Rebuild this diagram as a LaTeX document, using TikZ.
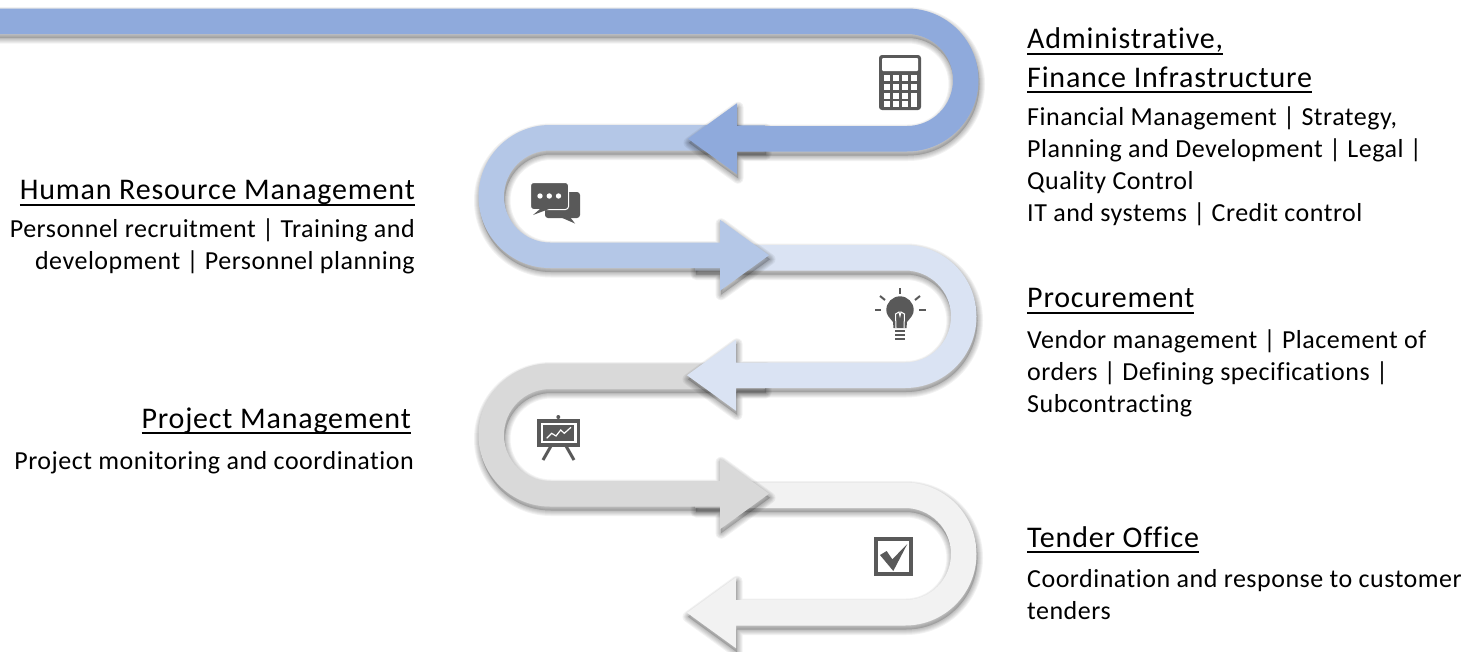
\documentclass[tikz,border=0pt]{standalone}
\usepackage{fontspec}
\setmainfont{Carlito}[Ligatures=NoCommon]
\newfontface\headface{Carlito}[LetterSpace=2.7,Ligatures=NoCommon]
\newfontface\textface{Carlito}[LetterSpace=1.95,Ligatures=NoCommon]
\usepackage{tikz}
\usetikzlibrary{positioning}
\definecolor{bandA}{HTML}{8FAADC}
\definecolor{bandB}{HTML}{B4C7E7}
\definecolor{bandC}{HTML}{DAE3F3}
\definecolor{bandD}{HTML}{D9D9D9}
\definecolor{bandE}{HTML}{F2F2F2}
\definecolor{icongray}{HTML}{595959}
\def\rout{71.5}
\def\rin{46}
\def\rmid{58.75}
\def\bandpath{(\tail,\cy-\rout) -- (\cx,\cy-\rout) arc[start angle=-90,end angle=-90+180*\dir,radius=\rout] -- (\base,\cy+\rout) -- (\base,\cy+\rmid+35.5) -- (\tip,\cy+\rmid) -- (\base,\cy+\rmid-35.5) -- (\base,\cy+\rin) -- (\cx,\cy+\rin) arc[start angle=-90+180*\dir,end angle=-90,radius=\rin] -- (\tail,\cy-\rin) -- cycle}
\tikzset{
	headbox/.style={inner sep=0pt,font=\fontsize{30}{38.5}\headface},
	textbox/.style={inner sep=0pt,font=\fontsize{26}{32}\textface},
	iconfill/.style={fill=icongray,draw=none},
	iconline/.style={draw=icongray,line cap=round},
	cutline/.style={draw=white,line width=1pt}
}
\newcommand{\headtext}[1]{\setbox0\hbox{#1}\rlap{\rule[-6pt]{\wd0}{1.8pt}}\box0}
\begin{document}
\begin{tikzpicture}[x=1pt,y=-1pt]
	\useasboundingbox (0,0) rectangle (1484,651);
	\foreach \bandcol/\cx/\cy/\dir/\tail/\base/\tip in {bandE/905/554/1/695/736/687,bandD/550/435/-1/765/720/769,bandC/905/316.5/1/695/736/687,bandB/550/196.5/-1/765/720/769,bandA/907/80/1/-20/737/688} {
		\fill[black,opacity=0.16,shift={(1,4)}] \bandpath;
		\foreach \blur in {11,9,7,5,3,1} {
			\draw[black,line width=\blur pt,line join=round,opacity=0.05,shift={(1,4)}] \bandpath;
		}
		\fill[\bandcol] \bandpath;
	}
	% calculator
	\fill[iconfill,rounded corners=3pt] (879,55) rectangle (921,110);
	\fill[white,rounded corners=1pt] (882,58) rectangle (918,71);
	\foreach \cellx in {883.5,892.5,901.5,910.5} {
		\foreach \celly in {75,83.5} {
			\fill[white] (\cellx,\celly) rectangle +(6,6);
		}
	}
	\foreach \cellx in {883.5,892.5,901.5} {
		\foreach \celly in {92.5,101} {
			\fill[white] (\cellx,\celly) rectangle +(6,6);
		}
	}
	\fill[white] (910.5,92.5) rectangle (916.5,107);
	% speech bubbles
	\fill[iconfill,rounded corners=3pt] (545,192) rectangle (580,218);
	\fill[iconfill] (560,217) -- (575,223.5) -- (570,217) -- cycle;
	\path[iconfill,draw=white,line width=1pt,rounded corners=3pt] (530.5,182.5) rectangle (568.5,209.5);
	\fill[iconfill] (540,209) -- (533,215) -- (549,209) -- cycle;
	\foreach \dotx in {540,549.3,558.5} {
		\fill[white] (\dotx,196) circle[radius=2.7];
	}
	% light bulb
	\fill[iconfill] (893.5,328) -- (893,322) .. controls (889,317) and (886.3,315) .. (886.3,310) arc[start angle=180,end angle=360,radius=13.7] .. controls (913.7,315) and (911,317) .. (907,322) -- (906.5,328) -- cycle;
	\foreach \liney in {331,335,339} {
		\draw[iconline,line width=2.5pt,line cap=butt] (895,\liney) -- (905,\liney);
	}
	\draw[cutline] (896,328) -- (895.5,314) -- (899,312) -- (900,316) -- (901,312) -- (904.5,314) -- (904,328);
	\draw[iconline,line width=2pt,line cap=butt] (900,288) -- (900,293.5);
	\draw[iconline,line width=2pt,line cap=butt] (880,296) -- (885,300);
	\draw[iconline,line width=2pt,line cap=butt] (920,296) -- (915,300);
	\draw[iconline,line width=2pt,line cap=butt] (875,310) -- (881,310);
	\draw[iconline,line width=2pt,line cap=butt] (919,310) -- (925.5,310);
	% easel
	\fill[iconfill] (558.3,417) circle[radius=2];
	\draw[iconline,line width=3pt,line cap=butt] (551,446) -- (543,460);
	\draw[iconline,line width=3pt,line cap=butt] (566,446) -- (574,460);
	\fill[iconfill] (536.7,419) rectangle (580,447.3);
	\fill[white] (540.7,422.7) rectangle (576.7,443.3);
	\fill[iconfill] (543.3,425.3) rectangle (574,440.7);
	\draw[white,line width=1.2pt] (546.7,438.3) -- (551.7,433.3) -- (556,436) -- (560.7,430) -- (564.3,433.3) -- (571,427.3);
	% check box
	\draw[icongray,line width=3.5pt] (876,539) rectangle (911,574);
	\fill[iconfill] (880,555) -- (886.7,551) -- (892.3,559.3) -- (907.3,544) -- (893.3,571) -- cycle;
	% texts
	\node[headbox,anchor=base west,align=left] at (1027,87) (admin) {\headtext{Administrative,}\\\headtext{Finance Infrastructure}};
	\node[textbox,below=13pt of admin.south west,anchor=north west,align=left] (admintext) {Financial Management | Strategy,\\Planning and Development | Legal |\\Quality Control\\IT and systems | Credit control};
	\node[headbox,anchor=base west] at (1027,307.5) (procure) {\headtext{Procurement}};
	\node[textbox,below=16pt of procure.south west,anchor=north west,align=left] (procuretext) {Vendor management | Placement of\\orders | Defining specifications |\\Subcontracting};
	\node[headbox,anchor=base west] at (1027,547) (tender) {\headtext{Tender Office}};
	\node[textbox,below=16pt of tender.south west,anchor=north west,align=left] (tendertext) {Coordination and response to customer\\tenders};
	\node[headbox,anchor=base east] at (415,199.5) (human) {\headtext{Human Resource Management}};
	\node[textbox,below=13pt of human.south east,anchor=north east,align=right] (humantext) {Personnel recruitment | Training and\\development | Personnel planning};
	\node[headbox,anchor=base east] at (411,428) (project) {\headtext{Project Management}};
	\node[textbox,below=17pt of project.south east,anchor=north east,align=right,xshift=3pt] (projecttext) {Project monitoring and coordination};
\end{tikzpicture}
\end{document}
